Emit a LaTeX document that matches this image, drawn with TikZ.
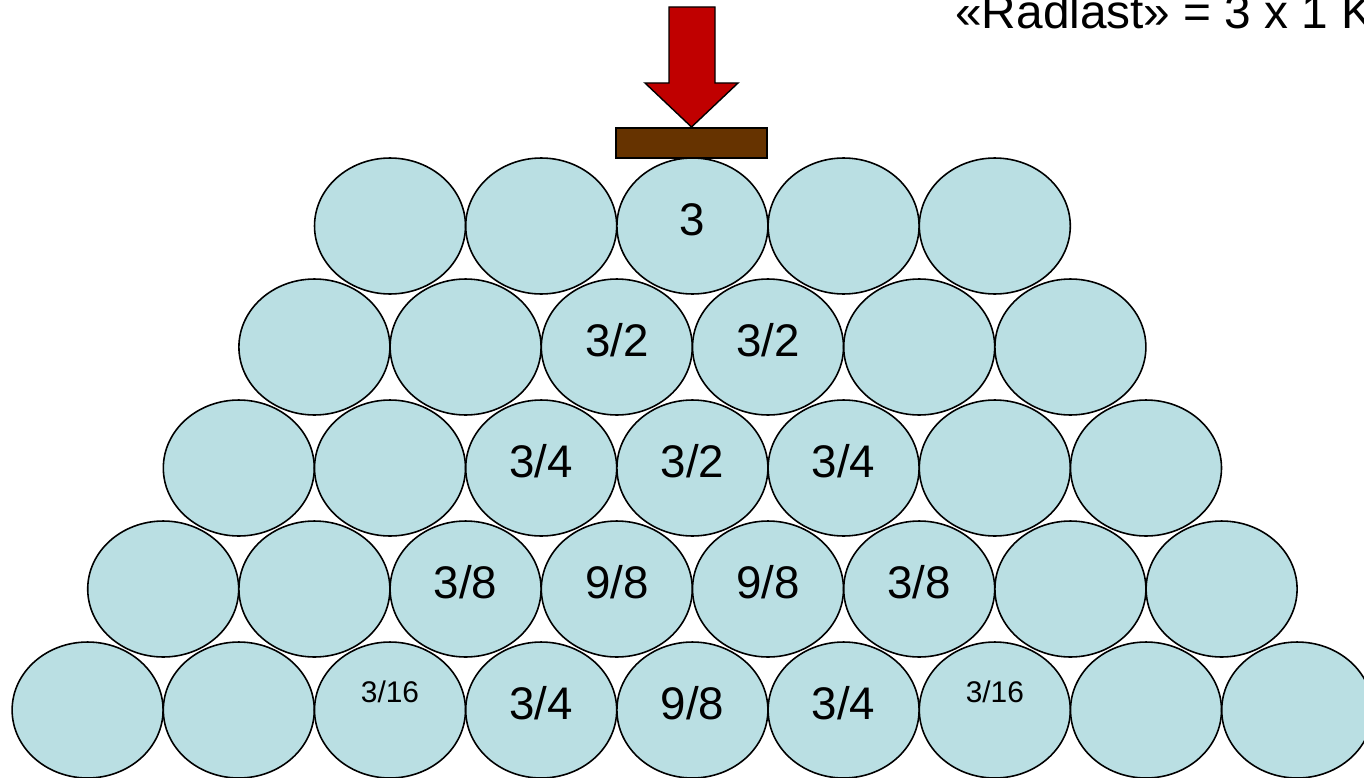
\documentclass[tikz,border=0pt]{standalone}
\usepackage{fontspec}
\setmainfont{Liberation Sans}
\usetikzlibrary{shapes.geometric, positioning, calc}

\definecolor{ballblue}{RGB}{186,223,227}
\definecolor{loadred}{RGB}{192,0,0}
\definecolor{boardbrown}{RGB}{102,51,0}

\begin{document}
\begin{tikzpicture}[
    x=0.02cm, y=-0.02cm,
    ball/.style={ellipse, draw=black, line width=0.9pt, fill=ballblue,
        minimum width=3.02cm, minimum height=2.72cm, inner sep=0pt},
    num/.style={anchor=base, inner sep=0pt, yshift=-0.18cm,
        font=\fontsize{26}{31}\selectfont},
    small/.style={anchor=base, inner sep=0pt, yshift=0.16cm,
        font=\fontsize{17}{20}\selectfont}
]
\clip (0,0) rectangle (1364,777);

% Stack of wheels: row r holds r+4 of them
\foreach \r in {1,...,5} {
    \pgfmathtruncatemacro\n{\r+4}
    \foreach \c in {1,...,\n}
        \node[ball] (b-\r-\c) at ({390-75.6*(\r-1)+151.2*(\c-1)}, {226+121*(\r-1)}) {};
}

% Load on top
\draw[line width=0.8pt, fill=loadred] (669,7) -- (715,7) -- (715,83) -- (738,83)
    -- (691.5,127) -- (645,83) -- (669,83) -- cycle;
\draw[line width=0.8pt, fill=boardbrown] (616,128) rectangle (767,158);

\node[anchor=base west, inner sep=0pt, font=\fontsize{27.2}{32}\selectfont] (load) at (955,29)
    {«Radlast» = 3 x 1 K};

% Shares of the load
\node[num] at (b-1-3) {3};
\node[num] at (b-2-3) {3/2};
\node[num] at (b-2-4) {3/2};
\node[num] at (b-3-3) {3/4};
\node[num] at (b-3-4) {3/2};
\node[num] at (b-3-5) {3/4};
\node[num] at (b-4-3) {3/8};
\node[num] at (b-4-4) {9/8};
\node[num] at (b-4-5) {9/8};
\node[num] at (b-4-6) {3/8};
\node[small] at (b-5-3) {3/16};
\node[num] at (b-5-4) {3/4};
\node[num] at (b-5-5) {9/8};
\node[num] at (b-5-6) {3/4};
\node[small] at (b-5-7) {3/16};
\end{tikzpicture}
\end{document}
